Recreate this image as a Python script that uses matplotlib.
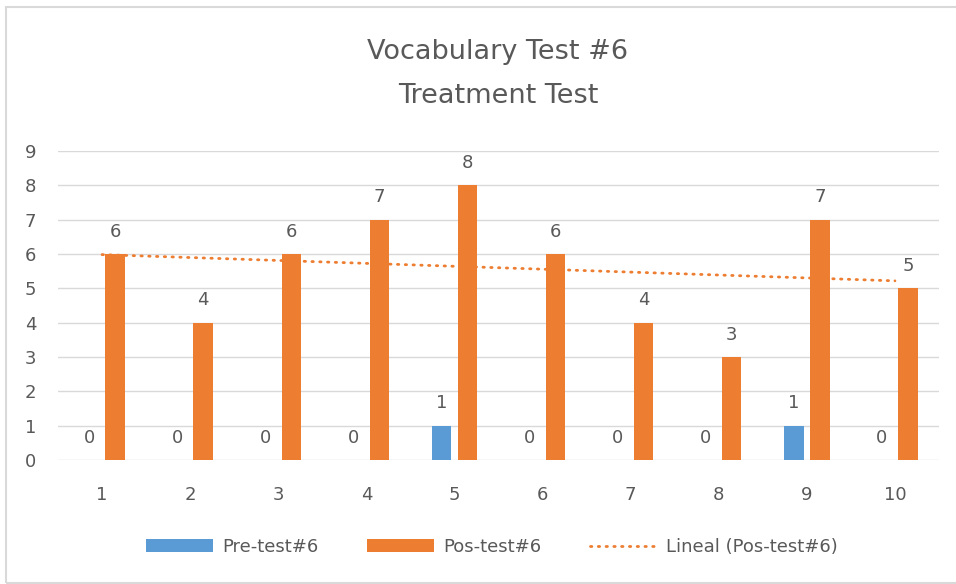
import numpy as np
import matplotlib
matplotlib.use("Agg")
import matplotlib.pyplot as plt
from matplotlib.patches import Rectangle

# data
categories = ["1", "2", "3", "4", "5", "6", "7", "8", "9", "10"]
pre_test = [0, 0, 0, 0, 1, 0, 0, 0, 1, 0]
pos_test = [6, 4, 6, 7, 8, 6, 4, 3, 7, 5]
y_ticks = [0, 1, 2, 3, 4, 5, 6, 7, 8, 9]

blue = "#5B9BD5"
orange = "#ED7D31"
text_gray = "#595959"
grid_gray = "#D9D9D9"

plt.rcParams["font.family"] = ["DejaVu Sans"]

fig = plt.figure(figsize=(9.56, 5.84), dpi=100)
ax = fig.add_axes([58/956, 1 - 460/584, (939 - 58)/956, (460 - 151)/584])

x = np.arange(1, len(categories) + 1)
w = 0.22
off = 0.148
b1 = ax.bar(x - off, pre_test, w, color=blue, label="Pre-test#6", zorder=3)
b2 = ax.bar(x + off, pos_test, w, color=orange, label="Pos-test#6", zorder=3)

# linear trendline of the post-test
m, c = np.polyfit(x, pos_test, 1)
trend, = ax.plot(x, m*x + c, color=orange, lw=2.0, linestyle=(0, (0.5, 2.3)),
                 dash_capstyle="round", label="Lineal (Pos-test#6)", zorder=4)

# data labels
for bars, vals in ((b1, pre_test), (b2, pos_test)):
    for r, v in zip(bars, vals):
        ax.annotate(str(v), (r.get_x() + r.get_width()/2, v),
                    xytext=(0, 12.5), textcoords="offset points",
                    ha="center", va="baseline", fontsize=13, color=text_gray)

ax.set_xlim(0.5, len(categories) + 0.5)
ax.set_ylim(0, 9)
ax.set_xticks(x)
ax.set_xticklabels(categories)
ax.set_yticks(y_ticks)
ax.tick_params(axis="both", length=0, labelsize=13, labelcolor=text_gray)
ax.tick_params(axis="y", pad=15.5)
ax.tick_params(axis="x", pad=19)
for s in ax.spines.values():
    s.set_visible(False)
ax.yaxis.grid(True, color=grid_gray, lw=1.0, zorder=0)
ax.set_axisbelow(True)

fig.text(498/956, 1 - 74/584, "Vocabulary Test #6\nTreatment Test",
         ha="center", va="center", fontsize=19.5, color=text_gray,
         linespacing=1.9)

fig.legend(handles=[b1, b2, trend], loc="center",
           bbox_to_anchor=(492/956, 1 - 547/584), ncol=3,
           frameon=False, fontsize=13, labelcolor=text_gray,
           handlelength=3.7, handleheight=0.7, handletextpad=0.5,
           columnspacing=2.7)

# chart border
fig.patches.append(Rectangle((6/956, 1 - 583/584), 1.0, (583 - 7)/584,
                             transform=fig.transFigure, fill=False,
                             edgecolor=grid_gray, lw=1.5))

fig.savefig("out.png", dpi=100)
